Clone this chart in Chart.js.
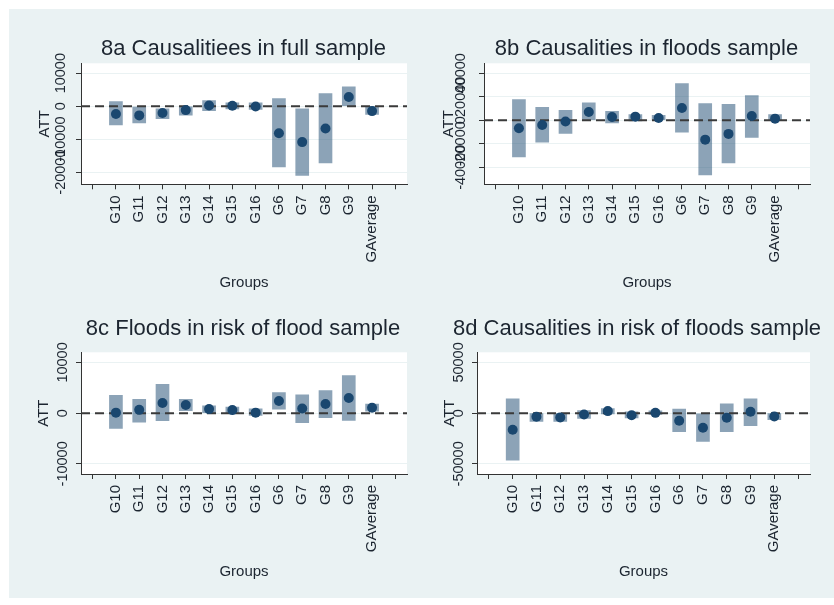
<!DOCTYPE html>
<html><head><meta charset="utf-8">
<script src="https://cdn.jsdelivr.net/npm/chart.js@4.4.1/dist/chart.umd.min.js"></script>
<style>
html,body{margin:0;padding:0;width:834px;height:605px;overflow:hidden;background:#ffffff;}
#bg{position:absolute;left:9px;top:9px;width:825px;height:589px;background:#eaf2f3;}
canvas{position:absolute;}
</style></head><body>
<div id="bg"></div>
<canvas id="ca"></canvas>
<canvas id="cb"></canvas>
<canvas id="cc"></canvas>
<canvas id="cd"></canvas>
<script>
// ---------- DATA ----------
const groups = ['G10','G11','G12','G13','G14','G15','G16','G6','G7','G8','G9','GAverage'];
const xLabels = [''].concat(groups, ['']);

const titleA = '8a Causalitiees in full sample';
const attA = [-2400, -2800, -2100, -1200, 200, 100, -100, -8200, -10900, -6800, 2800, -1500];
const loA  = [-5700, -5100, -3800, -2700, -1400, -800, -1000, -18400, -21000, -17200, 0, -2500];
const hiA  = [1400, -300, -800, -200, 1700, 1000, 1000, 2300, -800, 3800, 5900, 0];
const yTicksA = [-20000, -10000, 0, 10000];
const yRangeA = [-23700, 13000];

const titleB = '8b Causalities in floods sample';
const attB = [-6800, -4000, -1100, 7100, 2800, 3100, 2000, 10500, -16500, -11600, 3700, 1400];
const loB  = [-31200, -18700, -11100, 0, -2300, -600, 0, -10200, -46500, -36300, -14500, 0];
const hiB  = [17600, 11100, 8500, 14800, 7700, 4800, 4300, 31200, 14200, 13600, 21000, 4800];
const yTicksB = [-40000, -20000, 0, 20000, 40000];
const yRangeB = [-54500, 48500];

const titleC = '8c Floods in risk of flood sample';
const attC = [100, 650, 2000, 1600, 800, 600, 100, 2400, 900, 1800, 3000, 1050];
const loC  = [-3000, -1800, -1500, 500, 100, 0, -450, 800, -1900, -900, -1450, 400];
const hiC  = [3500, 2750, 5700, 2750, 1450, 1200, 850, 4050, 3600, 4450, 7400, 1800];
const yTicksC = [-10000, 0, 10000];
const yRangeC = [-12000, 12000];

const titleD = '8d Causalities in risk of floods sample';
const attD = [-16300, -3600, -4200, -1300, 2000, -2000, 300, -7500, -14400, -4600, 1300, -3300];
const loD  = [-46400, -8200, -8200, -5200, -650, -4600, -1300, -18300, -27800, -18300, -12400, -6500];
const hiD  = [14000, 0, 0, 2600, 4600, 1300, 2300, 3900, -650, 9200, 14000, 0];
const yTicksD = [-50000, 0, 50000];
const yRangeD = [-60000, 60000];

const xTitle = 'Groups';
const yTitle = 'ATT';

// ---------- LAYOUT / STYLE ----------
const FONT = "'Liberation Sans', Arial, Helvetica, sans-serif";
const TEXT = '#1c2530';
const AXIS = '#333333';
const GRID = '#eaf2f3';
const DOT = '#1a476f';
const BAR = 'rgba(26,71,111,0.5)';

const layouts = {
  ca: {L:20,  T:0,   W:447, H:300, plotL:81,  plotR:407, plotT:63.3,  plotB:184.3, titleMid:48.5, groupsMid:283,   att:45,    ylab:61},
  cb: {L:430, T:0,   W:433, H:300, plotL:484, plotR:810, plotT:63.3,  plotB:184.3, titleMid:48.5, groupsMid:283,   att:449,   ylab:461},
  cc: {L:20,  T:300, W:446, H:298, plotL:81,  plotR:407, plotT:352.3, plotB:474,   titleMid:329,  groupsMid:571.5, att:44,    ylab:63},
  cd: {L:425, T:300, W:424, H:298, plotL:477, plotR:810, plotT:352.3, plotB:474,   titleMid:329,  groupsMid:571.5, att:449.5, ylab:459}
};

const mctx = document.createElement('canvas').getContext('2d');
function measure(txt, size){ mctx.font = size + 'px ' + FONT; return mctx.measureText(txt).width; }

const bgAndZero = {
  id: 'bgAndZero',
  beforeDraw(chart){
    const a = chart.chartArea, c = chart.ctx;
    c.save(); c.fillStyle = '#ffffff';
    c.fillRect(a.left, a.top, a.right - a.left, a.bottom - a.top);
    c.restore();
  },
  afterDatasetDraw(chart, args){
    if (args.index !== 1) return;
    const a = chart.chartArea, c = chart.ctx;
    const y = chart.scales.y.getPixelForValue(0);
    c.save();
    c.strokeStyle = '#3a3a3a'; c.lineWidth = 2; c.setLineDash([9, 5]);
    c.beginPath(); c.moveTo(a.left, y); c.lineTo(a.right, y); c.stroke();
    c.restore();
  }
};

function pad(arr){ return [null].concat(arr, [null]); }

function makePanel(id, title, att, lo, hi, yTicks, yRange){
  const p = layouts[id];
  const cv = document.getElementById(id);
  cv.width = p.W; cv.height = p.H;
  cv.style.left = p.L + 'px'; cv.style.top = p.T + 'px';
  const TS = 22, TL = TS * 1.2;
  const AS = 15, AL = AS * 1.2;
  const KS = 14.5, XS = 15;
  const tl = 5;
  const ylW = p.plotL - p.L;
  const xPadR = p.L + p.W - p.plotR;
  const xH = p.T + p.H - p.plotB;
  const widest = Math.max.apply(null, yTicks.map(v => measure(String(v), KS)));
  const yPad = (p.plotL - p.ylab) - tl - widest / 2;
  const bars = pad(lo.map((l, i) => [l, hi[i]]));

  new Chart(cv, {
    type: 'bar',
    data: {
      labels: xLabels,
      datasets: [
        { type: 'line', data: pad(att), showLine: false, pointRadius: 5, pointHoverRadius: 5,
          pointBackgroundColor: DOT, pointBorderWidth: 0, borderColor: DOT, backgroundColor: DOT },
        { type: 'bar', data: bars, backgroundColor: BAR, borderWidth: 0, barThickness: 13 }
      ]
    },
    options: {
      responsive: false, animation: false, devicePixelRatio: 1,
      layout: { padding: 0 },
      plugins: {
        legend: { display: false }, tooltip: { enabled: false },
        title: { display: true, text: title, color: TEXT, fullSize: true, align: 'center',
          font: { family: FONT, size: TS, weight: 'normal' },
          padding: { top: p.titleMid - p.T - TL / 2, bottom: p.plotT - p.titleMid - TL / 2 } }
      },
      scales: {
        x: {
          type: 'category', offset: true,
          grid: { display: true, drawOnChartArea: false, drawTicks: true, tickLength: tl, color: AXIS, tickColor: AXIS, offset: false },
          border: { display: true, color: AXIS, width: 1 },
          ticks: { autoSkip: false, minRotation: 90, maxRotation: 90, padding: 6, color: TEXT,
            font: { family: FONT, size: XS } },
          title: { display: true, text: xTitle, color: TEXT, font: { family: FONT, size: AS },
            padding: { top: 0, bottom: p.T + p.H - p.groupsMid - AL / 2 } },
          afterFit(s){ s.height = xH; s.paddingRight = xPadR; s.paddingLeft = 0; }
        },
        y: {
          type: 'linear', min: yRange[0], max: yRange[1],
          afterBuildTicks(s){ s.ticks = yTicks.map(v => ({ value: v })); },
          grid: { display: true, drawOnChartArea: true, drawTicks: true, tickLength: tl, color: GRID, tickColor: AXIS, lineWidth: 1 },
          border: { display: true, color: AXIS, width: 1 },
          ticks: { autoSkip: false, minRotation: 90, maxRotation: 90, crossAlign: 'center', padding: yPad,
            color: TEXT, font: { family: FONT, size: KS }, callback: v => String(v) },
          title: { display: true, text: yTitle, color: TEXT, font: { family: FONT, size: AS },
            padding: { top: p.att - p.L - AL / 2, bottom: 0 } },
          afterFit(s){ s.width = ylW; s.paddingTop = 0; s.paddingBottom = 0; }
        }
      }
    },
    plugins: [bgAndZero]
  });
}

makePanel('ca', titleA, attA, loA, hiA, yTicksA, yRangeA);
makePanel('cb', titleB, attB, loB, hiB, yTicksB, yRangeB);
makePanel('cc', titleC, attC, loC, hiC, yTicksC, yRangeC);
makePanel('cd', titleD, attD, loD, hiD, yTicksD, yRangeD);
</script>
</body></html>
